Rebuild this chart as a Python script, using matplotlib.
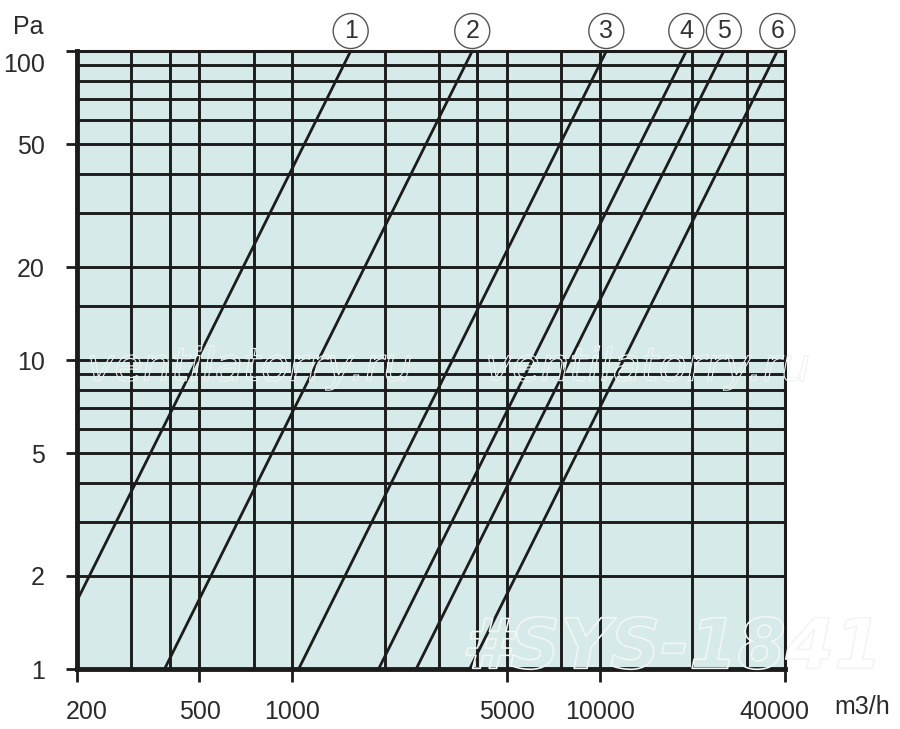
import matplotlib.pyplot as plt
import matplotlib.patheffects as pe
from matplotlib.transforms import ScaledTranslation

# air flow (m3/h) at 1 Pa and at 100 Pa for each curve (dp ~ Q^2)
curve_names = ["1", "2", "3", "4", "5", "6"]
flow_at_1pa = [155, 385, 1050, 1910, 2530, 3775]
flow_at_100pa = [1550, 3850, 10500, 19100, 25300, 37750]

x_grid = [300, 400, 500, 750, 1000, 2000, 3000, 4000, 5000, 7500, 10000, 20000, 30000]
y_grid = [2, 3, 4, 5, 6, 7, 8, 9, 10, 15, 20, 30, 40, 50, 60, 70, 80, 90]
x_ticks = [200, 500, 1000, 5000, 10000, 40000]
y_ticks = [1, 2, 5, 10, 20, 50, 100]

plt.rcParams['font.family'] = ['Liberation Sans', 'DejaVu Sans']
txt_col = "#2b2b2b"
ink = "#1c1c1c"

fig = plt.figure(figsize=(9, 7.29), dpi=100)
ax = fig.add_axes([0.0856, 0.0823, 0.7867, 0.8477])
ax.set_xscale('log')
ax.set_yscale('log')
ax.set_xlim(200, 40000)
ax.set_ylim(1, 100)
ax.set_facecolor("#d6ebe9")

for v in x_grid:
    ax.axvline(v, color=ink, lw=2.1, zorder=1)
for v in y_grid:
    ax.axhline(v, color=ink, lw=2.1, zorder=1)

for name, q1, q100 in zip(curve_names, flow_at_1pa, flow_at_100pa):
    ax.plot([q1, q100], [1, 100], color=ink, lw=2.0, zorder=2)
    ax.annotate(name, xy=(q100, 100), xytext=(0, 20), textcoords='offset pixels',
                ha='center', va='center', fontsize=18, color="#333333", annotation_clip=False,
                bbox=dict(boxstyle='circle,pad=0.22', fc='white', ec='#555555', lw=1.0))

for side in ['left', 'bottom']:
    ax.spines[side].set_linewidth(3.5)
    ax.spines[side].set_color(ink)
for side in ['top', 'right']:
    ax.spines[side].set_linewidth(2.2)
    ax.spines[side].set_color(ink)

ax.set_xticks(x_ticks)
ax.set_xticklabels([str(v) for v in x_ticks])
ax.set_yticks(y_ticks)
ax.set_yticklabels([str(v) for v in y_ticks])
ax.minorticks_off()
ax.tick_params(axis='x', length=9, width=2, color=ink, pad=13, labelsize=18, labelcolor=txt_col)
ax.tick_params(axis='y', length=8, width=2, color=ink, pad=15, labelsize=18, labelcolor=txt_col)

# small offsets of edge labels, as in the original
xl = ax.get_xticklabels()
xl[0].set_transform(xl[0].get_transform() + ScaledTranslation(10 / 100, 0, fig.dpi_scale_trans))
xl[-1].set_transform(xl[-1].get_transform() + ScaledTranslation(-11 / 100, 0, fig.dpi_scale_trans))
yl = ax.get_yticklabels()
yl[-1].set_transform(yl[-1].get_transform() + ScaledTranslation(0, -11 / 100, fig.dpi_scale_trans))

fig.text(0.031, 0.963, "Pa", fontsize=18, color=txt_col, ha='center', va='center')
fig.text(0.958, 0.030, "m3/h", fontsize=18, color=txt_col, ha='center', va='center')

# watermarks
wm = [pe.Stroke(linewidth=0.8, foreground='#eef3f3'), pe.Normal()]
fig.text(0.278, 0.495, "ventilatorry.ru", fontsize=33, style='italic', color=(1, 1, 1, 0),
         ha='center', va='center', path_effects=wm, family='DejaVu Sans')
fig.text(0.720, 0.495, "ventilatorry.ru", fontsize=33, style='italic', color=(1, 1, 1, 0),
         ha='center', va='center', path_effects=wm, family='DejaVu Sans')
fig.text(0.747, 0.11, "#SYS-1841", fontsize=50, style='italic', weight='bold', color=(1, 1, 1, 0),
         ha='center', va='center', path_effects=[pe.Stroke(linewidth=1.2, foreground='#f2f5f5'), pe.Normal()],
         family='DejaVu Sans')

plt.savefig('out.png', dpi=100)
